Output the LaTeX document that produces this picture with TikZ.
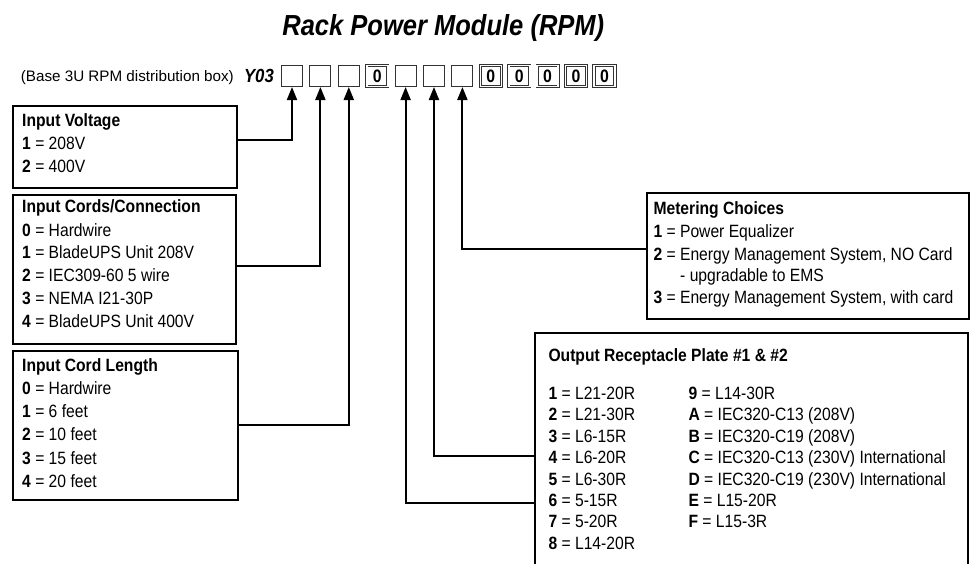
\documentclass[tikz,border=0pt]{standalone}
\usepackage{fontspec}
\setmainfont[FakeStretch=0.88]{Liberation Sans}
\newfontfamily\widefont{Liberation Sans}
\usetikzlibrary{arrows.meta,calc}
\begin{document}
\begin{tikzpicture}[x=1pt,y=-1pt,
  box/.style={draw,line width=2pt,inner sep=0pt,anchor=north west},
  codebox/.style={draw=black!80,line width=1pt,minimum size=21pt,inner sep=0pt},
  zerobox/.style={codebox,double=white,double distance=1.6pt,line width=0.8pt,font=\fontsize{18}{18}\selectfont\bfseries},
  txt/.style={anchor=base west,inner sep=0pt,font=\fontsize{17.8}{18}\selectfont},
  hd/.style={anchor=base west,inner sep=0pt,font=\fontsize{17.8}{18}\selectfont\bfseries},
  conn/.style={line width=2pt,-{Triangle[length=13pt,width=10pt]}},
]
\useasboundingbox (0,0) rectangle (970,563);

% title
\node[anchor=base,inner sep=0pt,font=\fontsize{29}{30}\selectfont\bfseries\itshape] (title) at (443.3,35) {Rack Power Module (RPM)};

% code row
\node[anchor=base east,inner sep=0pt,font=\widefont\fontsize{15.2}{16}\selectfont] (base) at (234,81) {(Base 3U RPM distribution box)};
\node[anchor=base east,inner sep=0pt,font=\fontsize{19}{20}\selectfont\bfseries\itshape] (y03) at (274,82) {Y03};
\foreach \i in {1,2,3,5,6,7}{
  \node[codebox] (b\i) at ({292+28.4*(\i-1)},76) {};
}
\foreach \i in {4,8,9,10,11,12}{
  \node[zerobox] (b\i) at ({292+28.4*(\i-1)},76) {0};
}

% Input Voltage
\node[box,minimum width=224pt,minimum height=82pt] (iv) at (12,105) {};
\node[hd] (iv0) at (22,126.2) {Input Voltage};
\node[txt] (iv1) at (22,149.2) {\textbf{1} = 208V};
\node[txt] (iv2) at (22,172.2) {\textbf{2} = 400V};

% Input Cords
\node[box,minimum width=223pt,minimum height=149pt] (ic) at (12,194) {};
\node[hd] (ic0) at (22,212.9) {Input Cords/Connection};
\node[txt] (ic1) at (22,236.2) {\textbf{0} = Hardwire};
\node[txt] (ic2) at (22,258.9) {\textbf{1} = BladeUPS Unit 208V};
\node[txt] (ic3) at (22,281.5) {\textbf{2} = IEC309-60 5 wire};
\node[txt] (ic4) at (22,304.5) {\textbf{3} = NEMA I21-30P};
\node[txt] (ic5) at (22,327.9) {\textbf{4} = BladeUPS Unit 400V};

% Input Cord Length
\node[box,minimum width=224.5pt,minimum height=149pt] (il) at (12,350) {};
\node[hd] (il0) at (22,371.2) {Input Cord Length};
\node[txt] (il1) at (22,394.4) {\textbf{0} = Hardwire};
\node[txt] (il2) at (22,417.6) {\textbf{1} = 6 feet};
\node[txt] (il3) at (22,440.8) {\textbf{2} = 10 feet};
\node[txt] (il4) at (22,464.0) {\textbf{3} = 15 feet};
\node[txt] (il5) at (22,487.2) {\textbf{4} = 20 feet};

% Metering Choices
\node[box,minimum width=322pt,minimum height=126pt] (mc) at (646,192.3) {};
\node[hd] (mc0) at (653.3,214.5) {Metering Choices};
\node[txt] (mc1) at (653.3,237.7) {\textbf{1} = Power Equalizer};
\node[txt] (mc2) at (653.3,260.7) {\textbf{2} = Energy Management System, NO Card};
\node[txt] (mc2b) at (680,281.2) {- upgradable to EMS};
\node[txt] (mc3) at (653.3,303.7) {\textbf{3} = Energy Management System, with card};

% Output Receptacle Plate
\draw[line width=2pt] (535,566) -- (535,333.3) -- (968,333.3) -- (968,566);
\node[hd] (or0) at (548.3,361.2) {Output Receptacle Plate \#1 \& \#2};
\foreach \k/\a/\b in {0/1/L21-20R,1/2/L21-30R,2/3/L6-15R,3/4/L6-20R,4/5/L6-30R,5/6/5-15R,6/7/5-20R,7/8/L14-20R}{
  \node[txt] (ora\a) at (548.3,{399.5+21.4*\k}) {\textbf{\a} = \b};
}
\foreach \k/\a/\b in {0/9/L14-30R,1/A/IEC320-C13 (208V),2/B/IEC320-C19 (208V),3/C/IEC320-C13 (230V) International,4/D/IEC320-C19 (230V) International,5/E/L15-20R,6/F/L15-3R}{
  \node[txt] (orb\a) at (688.3,{399.5+21.4*\k}) {\textbf{\a} = \b};
}

% connectors
\coordinate (k1) at (0,140);
\coordinate (k2) at (0,266);
\coordinate (k3) at (0,425);
\coordinate (k7) at (0,249.3);
\coordinate (k6) at (535,456);
\coordinate (k5) at (535,503.3);
\draw[conn] (iv.east |- k1) -| (b1.south);
\draw[conn] (ic.east |- k2) -| (b2.south);
\draw[conn] (il.east |- k3) -| (b3.south);
\draw[conn] (mc.west |- k7) -| (b7.south);
\draw[conn] (k6) -| (b6.south);
\draw[conn] (k5) -| (b5.south);
\end{tikzpicture}
\end{document}
